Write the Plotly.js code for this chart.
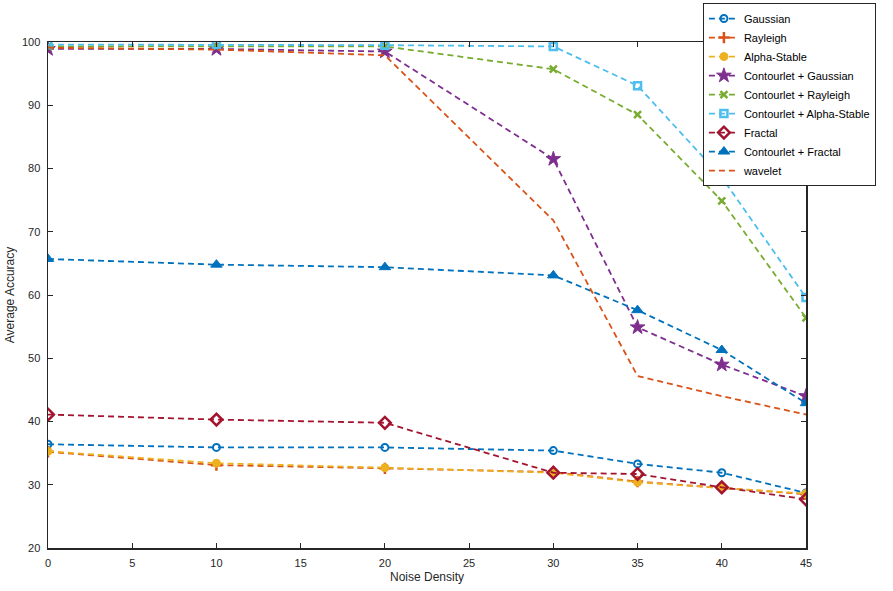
<!DOCTYPE html>
<html>
<head>
<meta charset="utf-8">
<script src="https://cdn.plot.ly/plotly-3.0.1.min.js"></script>
<style>html,body{margin:0;padding:0;background:#fff;}#chart{width:893px;height:591px;}</style>
</head>
<body>
<div id="chart"></div>
<script>
const noiseDensity = [0, 10, 20, 30, 35, 40, 45];
const gaussian = [36.4, 35.9, 35.9, 35.4, 33.3, 31.9, 28.7];
const rayleigh = [35.2, 33.1, 32.6, 32.0, 30.5, 29.5, 28.5];
const alphaStable = [35.3, 33.4, 32.7, 31.9, 30.4, 29.5, 28.6];
const contourletGaussian = [98.9, 98.9, 98.5, 81.5, 54.9, 49.0, 44.0];
const contourletRayleigh = [99.3, 99.3, 99.3, 95.7, 88.5, 74.9, 56.4];
const contourletAlphaStable = [99.6, 99.6, 99.5, 99.3, 93.1, 78.6, 59.6];
const fractal = [41.1, 40.3, 39.8, 31.9, 31.7, 29.6, 27.7];
const contourletFractal = [65.7, 64.8, 64.4, 63.1, 57.6, 51.3, 42.9];
const wavelet = [99.1, 98.8, 97.9, 71.8, 47.2, 44.0, 41.1];

const seriesNames = ['Gaussian', 'Rayleigh', 'Alpha-Stable', 'Contourlet + Gaussian', 'Contourlet + Rayleigh', 'Contourlet + Alpha-Stable', 'Fractal', 'Contourlet + Fractal', 'wavelet'];
const xTicks = [0, 5, 10, 15, 20, 25, 30, 35, 40, 45];
const yTicks = [20, 30, 40, 50, 60, 70, 80, 90, 100];

const dash = '6px,4px';
function tr(name, y, color, symbol, size, lw) {
  const t = {
    x: noiseDensity, y: y, name: name, type: 'scatter',
    mode: symbol ? 'lines+markers' : 'lines',
    line: {color: color, width: 1.8, dash: dash},
  };
  if (symbol) t.marker = {symbol: symbol, size: size, color: color, line: {color: color, width: lw}};
  return t;
}
const data = [
  tr(seriesNames[0], gaussian, '#0072BD', 'circle-open', 7, 2),
  tr(seriesNames[1], rayleigh, '#D95319', 'cross-thin-open', 8, 2.5),
  tr(seriesNames[2], alphaStable, '#EDB120', 'circle', 8, 1),
  tr(seriesNames[3], contourletGaussian, '#7E2F8E', 'star', 11, 1),
  tr(seriesNames[4], contourletRayleigh, '#77AC30', 'x-thin-open', 7, 2.5),
  tr(seriesNames[5], contourletAlphaStable, '#4DBEEE', 'square-open', 7, 2.5),
  tr(seriesNames[6], fractal, '#A2142F', 'diamond-open', 9, 2.5),
  tr(seriesNames[7], contourletFractal, '#0072BD', 'triangle-up', 10, 1),
  tr(seriesNames[8], wavelet, '#D95319', null)
];

const axisCommon = {
  showgrid: false, zeroline: false, showline: true, linecolor: '#262626', linewidth: 1.5,
  mirror: 'ticks', ticks: 'inside', ticklen: 5, tickcolor: '#262626', tickwidth: 1,
  ticklabelstandoff: 4,
  tickfont: {family: 'Liberation Sans, Arial, sans-serif', size: 11, color: '#262626'}
};
const layout = {
  width: 893, height: 591,
  margin: {l: 48, r: 87, t: 42, b: 43, autoexpand: false},
  paper_bgcolor: '#fff', plot_bgcolor: '#fff',
  showlegend: true,
  xaxis: Object.assign({}, axisCommon, {
    range: [0, 45], tickvals: xTicks, ticktext: xTicks.map(String),
    title: {text: 'Noise Density', standoff: 5, font: {family: 'Liberation Sans, Arial, sans-serif', size: 12, color: '#262626'}}
  }),
  yaxis: Object.assign({}, axisCommon, {
    range: [20, 100], tickvals: yTicks, ticktext: yTicks.map(String),
    title: {text: 'Average Accuracy', standoff: 4, font: {family: 'Liberation Sans, Arial, sans-serif', size: 12, color: '#262626'}}
  }),
  legend: {
    x: 0.864, y: 1.077, xanchor: 'left', yanchor: 'top',
    bgcolor: '#fff', bordercolor: '#262626', borderwidth: 1,
    font: {family: 'Liberation Sans, Arial, sans-serif', size: 11, color: '#000'},
    itemwidth: 30, tracegroupgap: 0
  }
};
Plotly.newPlot('chart', data, layout, {displayModeBar: false, staticPlot: true});
</script>
</body>
</html>
